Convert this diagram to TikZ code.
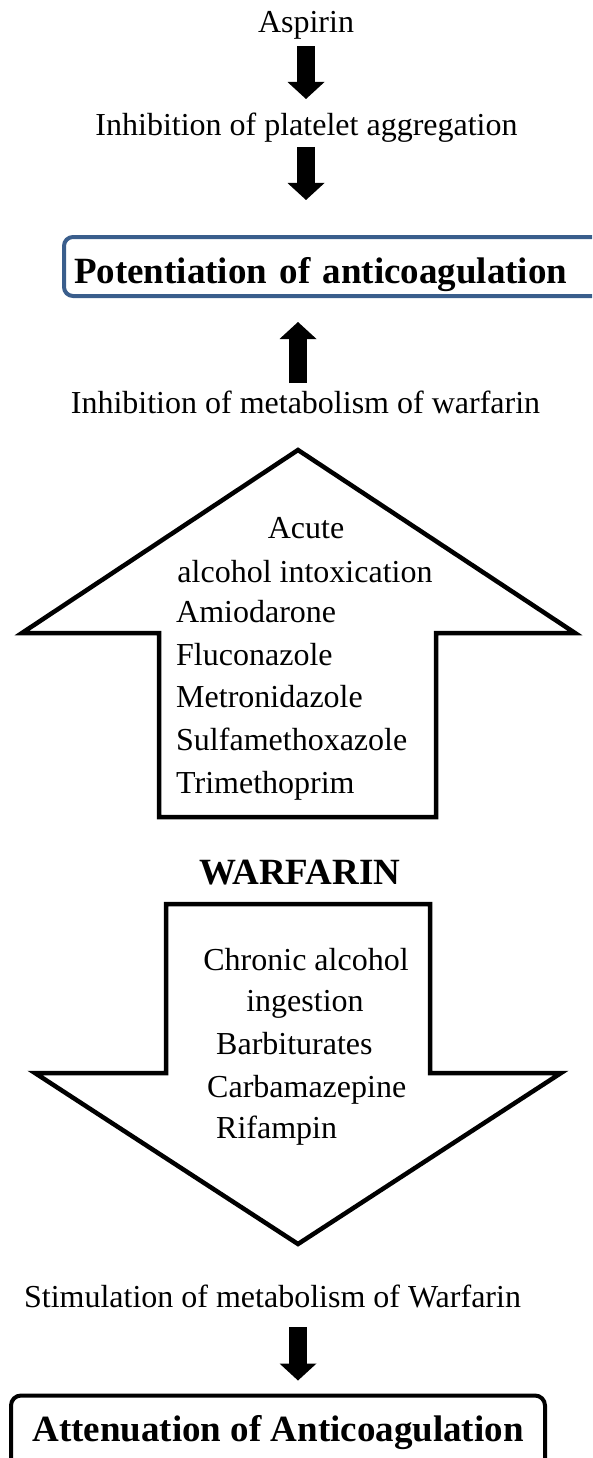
\documentclass[tikz,border=0pt]{standalone}
\usepackage{fontspec}
\setmainfont{Liberation Serif}
\usetikzlibrary{calc,arrows.meta}
\definecolor{potblue}{RGB}{58,94,140}
\begin{document}
\begin{tikzpicture}[x=1pt,y=-1pt,
  txt/.style={inner sep=0pt, font=\fontsize{32}{38}\selectfont},
  btxt/.style={inner sep=0pt, font=\fontsize{37}{44}\selectfont\bfseries},
  blk/.style={line width=17.5pt, -{Triangle[length=17pt 0 0, width=37pt 0 0, line width=0pt]}},
  bigarrow/.style={draw=black, line width=4.5pt, line join=miter, fill=white},
  outbox/.style={line width=4pt, outer sep=0pt, inner sep=0pt, anchor=north west}]
\useasboundingbox (0,0) rectangle (592,1458);
\clip (0,0) rectangle (592,1458);

% top chain
\node[txt, anchor=base] (asp) at (306,32.5) {Aspirin};
\node[txt, anchor=base] (plt) at (306.5,136) {Inhibition of platelet aggregation};
\node[outbox, draw=potblue, rounded corners=9pt, minimum width=576pt, minimum height=59pt,
      text width=556pt, align=left, inner xsep=10pt, text height=35pt, text depth=2pt,
      font=\fontsize{37}{44}\selectfont\bfseries] (pot) at (64,237) {Potentiation of anticoagulation};
\draw[blk] ($(asp.base)+(0,14)$) -- ($(plt.base)+(-0.5,-37)$);
\draw[blk] ($(plt.base)+(-0.5,11)$) -- ($(plt.base |- pot.north)+(-0.5,-37)$);

\node[txt, anchor=base] (inhm) at (305.5,413) {Inhibition of metabolism of warfarin};
\draw[blk] ($(inhm.base)+(-7.5,-30)$) -- ($(inhm.base |- pot.south)+(-7.5,26)$);

% big up arrow
\draw[bigarrow] (298,450) -- (575,633) -- (436,633) -- (436,817) -- (159,817) -- (159,633) -- (22,633) -- cycle;
\node[txt, anchor=base] (u1) at (306,538) {Acute};
\node[txt, anchor=base] (u2) at (305,582) {alcohol intoxication};
\node[txt, anchor=base west] (u3) at (176,622) {Amiodarone};
\node[txt, anchor=base west] (u4) at (176,665) {Fluconazole};
\node[txt, anchor=base west] (u5) at (176,707) {Metronidazole};
\node[txt, anchor=base west] (u6) at (176,750) {Sulfamethoxazole};
\node[txt, anchor=base west] (u7) at (176,793) {Trimethoprim};

\node[btxt, anchor=base] (warf) at (300,884) {WARFARIN};

% big down arrow
\draw[bigarrow] (166,904) -- (430,904) -- (430,1073) -- (561,1073) -- (298,1244) -- (35,1073) -- (166,1073) -- cycle;
\node[txt, anchor=base] (d1) at (306,970) {Chronic alcohol};
\node[txt, anchor=base] (d2) at (305,1011) {ingestion};
\node[txt, anchor=base west] (d3) at (216,1054) {Barbiturates};
\node[txt, anchor=base west] (d4) at (207,1097) {Carbamazepine};
\node[txt, anchor=base west] (d5) at (216,1138) {Rifampin};

% bottom chain
\node[txt, anchor=base] (stim) at (272.5,1307) {Stimulation of metabolism of Warfarin};
\node[outbox, draw=black, rounded corners=10pt, minimum width=534pt, minimum height=74pt,
      text height=20pt, text depth=2pt,
      font=\fontsize{37}{44}\selectfont\bfseries] (att) at (11,1395.5) {Attenuation of Anticoagulation};
\draw[blk] ($(stim.base)+(25.5,20)$) -- ($(stim.base |- att.north)+(25.5,-15)$);
\end{tikzpicture}
\end{document}
